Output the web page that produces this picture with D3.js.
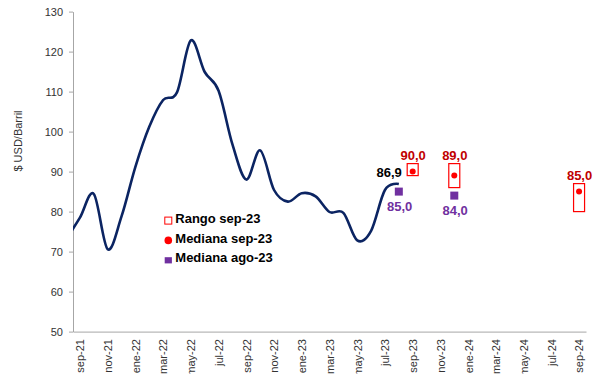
<!DOCTYPE html>
<html>
<head>
<meta charset="utf-8">
<script src="https://cdn.jsdelivr.net/npm/d3@7"></script>
<style>
  html, body { margin: 0; padding: 0; background: #fff; }
  svg { display: block; font-family: Arial, "Liberation Sans", sans-serif; }
</style>
</head>
<body>
<svg id="chart" width="598" height="374"></svg>
<script>
// Brent, cierre de mes (USD/barril)
const histMonths = ["ago-21","sep-21","oct-21","nov-21","dic-21","ene-22","feb-22","mar-22","abr-22",
  "may-22","jun-22","jul-22","ago-22","sep-22","oct-22","nov-22","dic-22","ene-23","feb-23","mar-23",
  "abr-23","may-23","jun-23","jul-23","ago-23"];
const histValues = [73.0, 78.5, 84.4, 70.6, 78.8, 91.2, 101.2, 107.9, 109.8,
  122.8, 114.9, 110.2, 96.8, 88.0, 95.3, 85.4, 82.5, 84.6, 83.8, 79.9,
  79.7, 72.8, 75.2, 85.4, 86.9];

// Encuesta de expectativas
const rangoMonths = ["sep-23", "dic-23", "sep-24"];
const rangoLow = [89, 86, 80];
const rangoHigh = [92, 92, 87];
const medianaSep = [90.0, 89.0, 85.0];
const medianaAgoMonths = ["ago-23", "dic-23"];
const medianaAgo = [85.0, 84.0];

// Eje horizontal: sep-21 .. sep-24, etiqueta cada dos meses
const axisMonths = ["sep-21","oct-21","nov-21","dic-21","ene-22","feb-22","mar-22","abr-22","may-22",
  "jun-22","jul-22","ago-22","sep-22","oct-22","nov-22","dic-22","ene-23","feb-23","mar-23","abr-23",
  "may-23","jun-23","jul-23","ago-23","sep-23","oct-23","nov-23","dic-23","ene-24","feb-24","mar-24",
  "abr-24","may-24","jun-24","jul-24","ago-24","sep-24"];
const yTicks = [50, 60, 70, 80, 90, 100, 110, 120, 130];
const legendItems = ["Rango sep-23", "Mediana sep-23", "Mediana ago-23"];

const MES = ["ene","feb","mar","abr","may","jun","jul","ago","sep","oct","nov","dic"];
const base = MES.indexOf("sep") + 12 * 21;
function monthIdx(label) {
  const [m, yy] = label.split("-");
  return MES.indexOf(m) + 12 * (+yy) - base;
}

const svg = d3.select("#chart");
const plotLeft = 73, plotRight = 586, plotTop = 11.6, plotBottom = 331.6;

const x = d3.scaleLinear().domain([-0.5, axisMonths.length - 0.5]).range([plotLeft, plotRight]);
const y = d3.scaleLinear().domain([50, 130]).range([plotBottom, plotTop]);

const axisColor = "#a6a6a6";
const textColor = "#333";
const fontFam = "Arial, 'Liberation Sans', sans-serif";

// Eje Y
const yAxis = svg.append("g")
  .attr("transform", `translate(${plotLeft},0)`)
  .call(d3.axisLeft(y).tickValues(yTicks).tickSize(4).tickPadding(6).tickSizeOuter(0));
yAxis.select(".domain").attr("stroke", axisColor);
yAxis.selectAll(".tick line").attr("stroke", axisColor);
yAxis.selectAll(".tick text").attr("fill", textColor).style("font-size", "11px")
  .style("font-family", fontFam);

// Eje X
const xAxis = svg.append("g")
  .attr("transform", `translate(0,${plotBottom})`)
  .call(d3.axisBottom(x)
    .tickValues(axisMonths.map((d, i) => i).filter(i => i % 2 === 0))
    .tickFormat(i => axisMonths[i])
    .tickSize(0).tickSizeOuter(0));
xAxis.select(".domain").attr("stroke", axisColor);
xAxis.selectAll(".tick text")
  .attr("fill", textColor)
  .style("font-size", "11px")
  .style("font-family", fontFam)
  .attr("text-anchor", "end")
  .attr("transform", "rotate(-90)")
  .attr("x", -7.5)
  .attr("y", 0)
  .attr("dy", "0.35em");

// Título del eje Y
svg.append("text")
  .attr("transform", `translate(22,141) rotate(-90)`)
  .attr("text-anchor", "middle")
  .attr("fill", textColor)
  .style("font-size", "11px")
  .text("$ USD/Barril");

// Serie histórica
svg.append("clipPath").attr("id", "plot-clip")
  .append("rect").attr("x", plotLeft).attr("y", 0)
  .attr("width", plotRight - plotLeft).attr("height", plotBottom);

const hist = histMonths.map((m, i) => ({ i: monthIdx(m), v: histValues[i] }));
svg.append("path")
  .datum(hist)
  .attr("clip-path", "url(#plot-clip)")
  .attr("fill", "none")
  .attr("stroke", "#0b2462")
  .attr("stroke-width", 2.6)
  .attr("stroke-linejoin", "round")
  .attr("d", d3.line().x(d => x(d.i)).y(d => y(d.v)).curve(d3.curveCardinal.tension(0)));

const fmt = v => d3.format(".1f")(v).replace(".", ",");

const last = hist[hist.length - 1];
svg.append("text")
  .attr("x", x(last.i) + 3)
  .attr("y", y(last.v) - 7.5)
  .attr("text-anchor", "end")
  .attr("fill", "#000")
  .style("font-size", "13px").style("font-weight", "bold")
  .text(fmt(last.v));

const boxW = 11;

// Rango
svg.selectAll("rect.rango")
  .data(rangoMonths)
  .join("rect")
  .attr("class", "rango")
  .attr("x", m => x(monthIdx(m)) - boxW / 2)
  .attr("y", (m, i) => y(rangoHigh[i]))
  .attr("width", boxW)
  .attr("height", (m, i) => y(rangoLow[i]) - y(rangoHigh[i]))
  .attr("fill", "none")
  .attr("stroke", "#ff0000")
  .attr("stroke-width", 1.2);

// Mediana sep-23
svg.selectAll("circle.med-sep")
  .data(rangoMonths)
  .join("circle")
  .attr("class", "med-sep")
  .attr("cx", m => x(monthIdx(m)))
  .attr("cy", (m, i) => y(medianaSep[i]))
  .attr("r", 3)
  .attr("fill", "#ff0000");

svg.selectAll("text.lab-sep")
  .data(rangoMonths)
  .join("text")
  .attr("class", "lab-sep")
  .attr("x", m => x(monthIdx(m)) + 0.5)
  .attr("y", (m, i) => y(rangoHigh[i]) - 4)
  .attr("text-anchor", "middle")
  .attr("fill", "#c00000")
  .style("font-size", "13px").style("font-weight", "bold")
  .text((m, i) => fmt(medianaSep[i]));

// Mediana ago-23
const sq = 8;
svg.selectAll("rect.med-ago")
  .data(medianaAgoMonths)
  .join("rect")
  .attr("class", "med-ago")
  .attr("x", m => x(monthIdx(m)) - sq / 2)
  .attr("y", (m, i) => y(medianaAgo[i]) - sq / 2)
  .attr("width", sq).attr("height", sq)
  .attr("fill", "#7030a0");

svg.selectAll("text.lab-ago")
  .data(medianaAgoMonths)
  .join("text")
  .attr("class", "lab-ago")
  .attr("x", m => x(monthIdx(m)) + 0.8)
  .attr("y", (m, i) => y(medianaAgo[i]) + 19)
  .attr("text-anchor", "middle")
  .attr("fill", "#7030a0")
  .style("font-size", "13px").style("font-weight", "bold")
  .text((m, i) => fmt(medianaAgo[i]));

// Leyenda
const lg = svg.append("g").attr("transform", "translate(168.3,220.6)");
const rowH = 19.8;
lg.append("rect").attr("x", -3.5).attr("y", -3.5).attr("width", 7).attr("height", 7)
  .attr("fill", "#fff").attr("stroke", "#ff0000").attr("stroke-width", 1);
lg.append("circle").attr("cx", 0).attr("cy", rowH).attr("r", 3.8).attr("fill", "#ff0000");
lg.append("rect").attr("x", -3.6).attr("y", 2 * rowH - 3).attr("width", 7.2).attr("height", 6.2)
  .attr("fill", "#7030a0");
lg.selectAll("text")
  .data(legendItems)
  .join("text")
  .attr("x", 7)
  .attr("y", (d, i) => i * rowH + 2.2)
  .attr("fill", "#000")
  .style("font-size", "13px").style("font-weight", "bold")
  .text(d => d);
</script>
</body>
</html>
